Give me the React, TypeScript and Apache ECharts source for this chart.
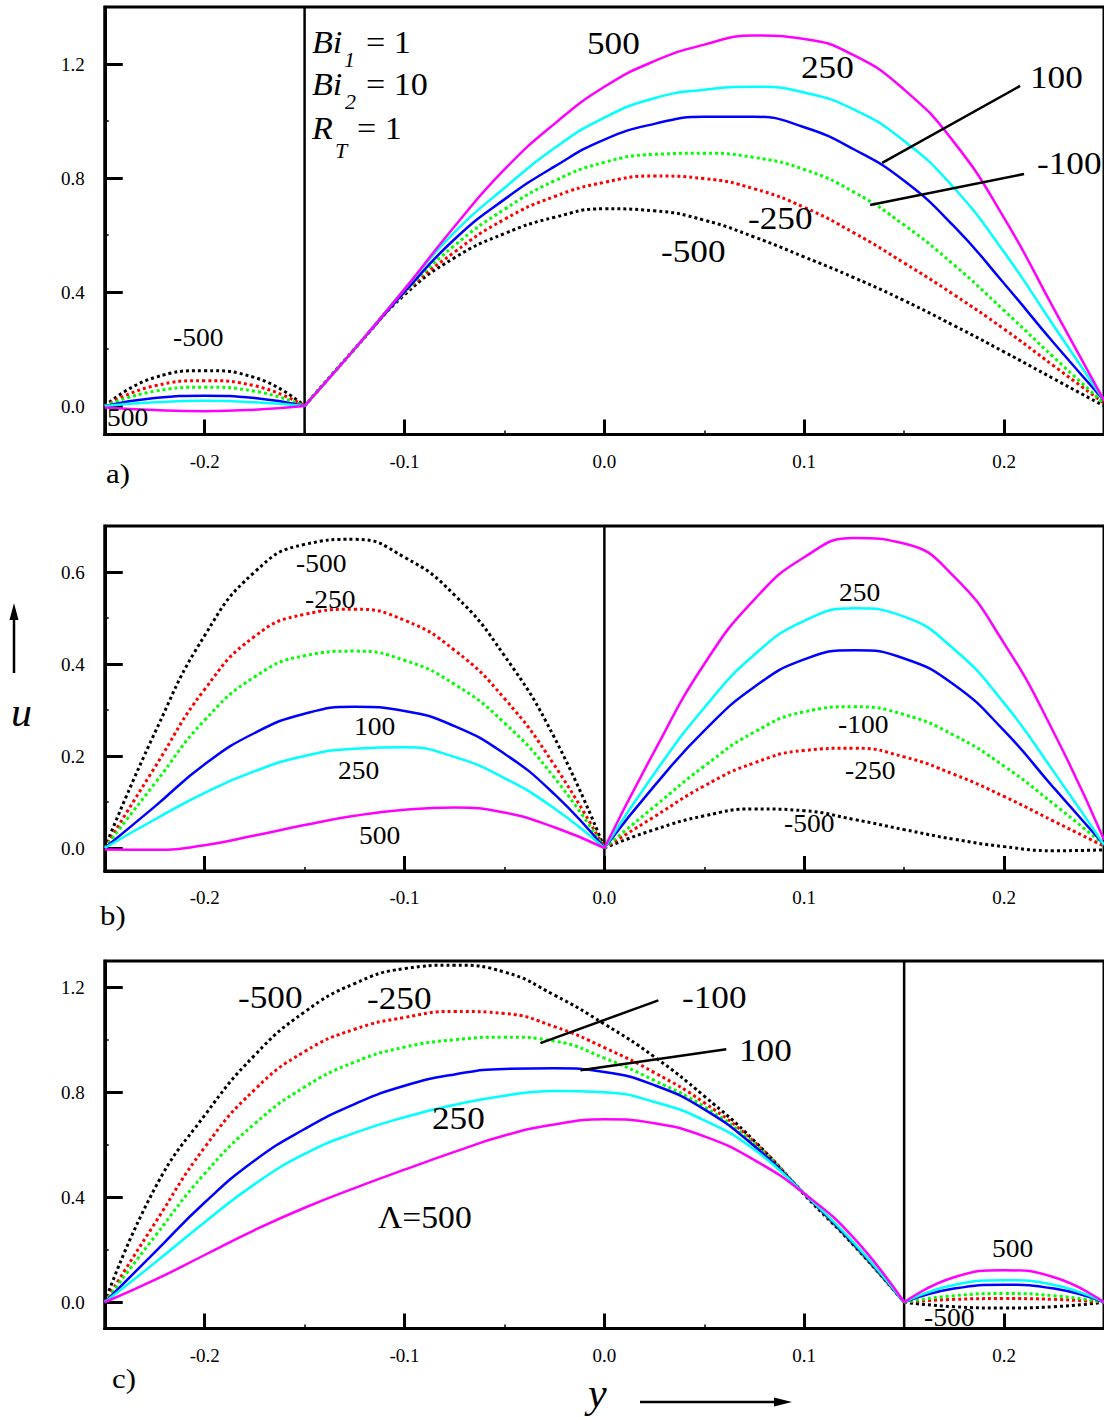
import React, { useEffect, useRef } from "react";
import * as echarts from "echarts";

const FONT = "'Liberation Serif', 'Times New Roman', serif";

// ---------- axis ticks ----------
const xMajor = [-0.2, -0.1, 0.0, 0.1, 0.2];
const xMinor = [-0.25, -0.15, -0.05, 0.05, 0.15, 0.25];
const yMajorA = [0.0, 0.4, 0.8, 1.2];
const yMinorA = [0.2, 0.6, 1.0];
const yMajorB = [0.0, 0.2, 0.4, 0.6];
const yMinorB = [0.1, 0.3, 0.5];
const yMajorC = [0.0, 0.4, 0.8, 1.2];
const yMinorC = [0.2, 0.6, 1.0];

// Λ values of the curves (order of the arrays below)
const lambdas = ["500", "250", "100", "-100", "-250", "-500"];

// ---------- panel a ----------
const xA_L = [-0.25, -0.225, -0.2, -0.175, -0.15];
const a_L_500 = [-0.005, -0.014, -0.018, -0.013, 0];
const a_L_250 = [0, 0.013, 0.018, 0.013, 0];
const a_L_100 = [0, 0.028, 0.036, 0.028, 0];
const a_L_m100 = [0, 0.052, 0.066, 0.052, 0];
const a_L_m250 = [0, 0.071, 0.089, 0.071, 0];
const a_L_m500 = [0, 0.1, 0.124, 0.1, 0];

const xA_R = [-0.15, -0.125, -0.1, -0.075, -0.05, -0.025, 0, 0.025, 0.05, 0.075, 0.1, 0.125, 0.15, 0.175, 0.2, 0.225, 0.25];
const a_R_500 = [0, 0.2, 0.41, 0.63, 0.83, 0.99, 1.12, 1.21, 1.268, 1.3, 1.288, 1.23, 1.11, 0.925, 0.66, 0.34, 0.02];
const a_R_250 = [0, 0.2, 0.41, 0.61, 0.765, 0.905, 1.012, 1.08, 1.11, 1.12, 1.1, 1.04, 0.93, 0.765, 0.54, 0.28, 0.02];
const a_R_100 = [0, 0.2, 0.4, 0.585, 0.725, 0.84, 0.935, 0.99, 1.015, 1.015, 0.978, 0.9, 0.79, 0.63, 0.43, 0.22, 0.02];
const a_R_m100 = [0, 0.2, 0.398, 0.563, 0.69, 0.79, 0.855, 0.883, 0.887, 0.872, 0.83, 0.75, 0.635, 0.495, 0.335, 0.17, 0.01];
const a_R_m250 = [0, 0.2, 0.396, 0.54, 0.655, 0.735, 0.785, 0.807, 0.798, 0.762, 0.697, 0.607, 0.502, 0.39, 0.27, 0.14, 0.01];
const a_R_m500 = [0, 0.2, 0.39, 0.52, 0.605, 0.662, 0.692, 0.685, 0.652, 0.593, 0.523, 0.45, 0.37, 0.282, 0.19, 0.095, 0.0];

// ---------- panel b ----------
const xB_L = [-0.25, -0.225, -0.2, -0.175, -0.15, -0.125, -0.1, -0.075, -0.05, -0.025, 0];
const b_L_500 = [-0.003, -0.004, 0.006, 0.027, 0.05, 0.07, 0.083, 0.088, 0.077, 0.045, 0];
const b_L_250 = [0, 0.062, 0.12, 0.167, 0.2, 0.216, 0.219, 0.198, 0.152, 0.086, 0];
const b_L_100 = [0, 0.09, 0.182, 0.25, 0.292, 0.307, 0.298, 0.265, 0.205, 0.117, 0];
const b_L_m100 = [0, 0.14, 0.278, 0.372, 0.418, 0.428, 0.408, 0.356, 0.272, 0.153, 0];
const b_L_m250 = [0, 0.175, 0.345, 0.46, 0.508, 0.519, 0.495, 0.43, 0.325, 0.18, 0];
const b_L_m500 = [0, 0.25, 0.462, 0.6, 0.66, 0.671, 0.632, 0.55, 0.418, 0.24, 0];

const xB_R = [0, 0.025, 0.05, 0.075, 0.1, 0.125, 0.15, 0.175, 0.2, 0.225, 0.25];
const b_R_500 = [0, 0.21, 0.4, 0.54, 0.632, 0.674, 0.662, 0.59, 0.445, 0.25, 0.018];
const b_R_250 = [0, 0.162, 0.305, 0.42, 0.494, 0.521, 0.503, 0.432, 0.315, 0.165, 0.007];
const b_R_100 = [0, 0.135, 0.255, 0.35, 0.41, 0.43, 0.412, 0.355, 0.255, 0.13, 0.007];
const b_R_m100 = [0, 0.09, 0.178, 0.252, 0.296, 0.307, 0.29, 0.245, 0.178, 0.095, 0.007];
const b_R_m250 = [0, 0.068, 0.135, 0.185, 0.212, 0.217, 0.198, 0.16, 0.112, 0.058, 0.004];
const b_R_m500 = [0, 0.04, 0.07, 0.085, 0.081, 0.062, 0.04, 0.019, 0.003, -0.006, -0.004];

// ---------- panel c ----------
const xC_L = [-0.25, -0.225, -0.2, -0.175, -0.15, -0.125, -0.1, -0.075, -0.05, -0.025, 0, 0.025, 0.05, 0.075, 0.1, 0.125, 0.15];
const c_L_500 = [0, 0.085, 0.18, 0.275, 0.36, 0.435, 0.505, 0.573, 0.635, 0.677, 0.697, 0.682, 0.632, 0.542, 0.414, 0.243, 0];
const c_L_250 = [0, 0.15, 0.305, 0.45, 0.565, 0.645, 0.705, 0.752, 0.787, 0.805, 0.8, 0.763, 0.693, 0.582, 0.414, 0.225, 0];
const c_L_100 = [0, 0.19, 0.38, 0.54, 0.66, 0.755, 0.825, 0.868, 0.889, 0.891, 0.877, 0.827, 0.735, 0.595, 0.414, 0.22, 0];
const c_L_m100 = [0, 0.25, 0.49, 0.68, 0.82, 0.915, 0.972, 1.0, 1.01, 0.995, 0.93, 0.845, 0.745, 0.603, 0.414, 0.217, 0];
const c_L_m250 = [0, 0.3, 0.59, 0.81, 0.955, 1.04, 1.085, 1.108, 1.1, 1.05, 0.97, 0.875, 0.76, 0.61, 0.414, 0.217, 0];
const c_L_m500 = [0, 0.433, 0.712, 0.941, 1.106, 1.214, 1.271, 1.284, 1.258, 1.17, 1.06, 0.935, 0.785, 0.615, 0.41, 0.215, 0];

const xC_R = [0.15, 0.175, 0.2, 0.225, 0.25];
const c_R_500 = [0, 0.095, 0.122, 0.095, 0];
const c_R_250 = [0, 0.066, 0.084, 0.066, 0];
const c_R_100 = [0, 0.052, 0.067, 0.052, 0];
const c_R_m100 = [0, 0.025, 0.033, 0.025, 0];
const c_R_m250 = [0, 0.011, 0.014, 0.011, 0];
const c_R_m500 = [0, -0.017, -0.022, -0.017, 0];

// interfaces between the two layers
const interfaceA = -0.15;
const interfaceB = 0.0;
const interfaceC = 0.15;

// leader lines (data coordinates)
const leaderA100 = [[0.208, 1.123], [0.139, 0.853]];
const leaderAm100 = [[0.21, 0.814], [0.133, 0.705]];
const leaderCm100 = [[0.027, 1.15], [-0.032, 0.987]];
const leaderC100 = [[0.061, 0.964], [-0.012, 0.884]];

const COLORS = ["#ff00ff", "#00ffff", "#0000ff", "#00ff00", "#ff0000", "#000000"];
const DOTTED = [false, false, false, true, true, true];

const panels = [
  {
    ymin: -0.1, ymax: 1.4, yMajor: yMajorA, yMinor: yMinorA, top: 7, height: 427.5, iface: interfaceA,
    regions: [
      { x: xA_L, ys: [a_L_500, a_L_250, a_L_100, a_L_m100, a_L_m250, a_L_m500] },
      { x: xA_R, ys: [a_R_500, a_R_250, a_R_100, a_R_m100, a_R_m250, a_R_m500] },
    ],
    leaders: [leaderA100, leaderAm100],
  },
  {
    ymin: -0.05, ymax: 0.7, yMajor: yMajorB, yMinor: yMinorB, top: 526, height: 345, iface: interfaceB,
    regions: [
      { x: xB_L, ys: [b_L_500, b_L_250, b_L_100, b_L_m100, b_L_m250, b_L_m500] },
      { x: xB_R, ys: [b_R_500, b_R_250, b_R_100, b_R_m100, b_R_m250, b_R_m500] },
    ],
    leaders: [],
  },
  {
    ymin: -0.1, ymax: 1.3, yMajor: yMajorC, yMinor: yMinorC, top: 961, height: 367.5, iface: interfaceC,
    regions: [
      { x: xC_L, ys: [c_L_500, c_L_250, c_L_100, c_L_m100, c_L_m250, c_L_m500] },
      { x: xC_R, ys: [c_R_500, c_R_250, c_R_100, c_R_m100, c_R_m250, c_R_m500] },
    ],
    leaders: [leaderCm100, leaderC100],
  },
];

function txt(text: string, x: number, y: number, size: number, italic = false, sx = 1.1) {
  return {
    type: "text",
    x,
    y,
    scaleX: sx,
    z: 20,
    silent: true,
    style: {
      text,
      fill: "#000",
      font: `${italic ? "italic " : ""}${size}px ${FONT}`,
      align: "left",
      verticalAlign: "middle",
    },
  };
}

function buildOption() {
  const grid: any[] = [];
  const xAxis: any[] = [];
  const yAxis: any[] = [];
  const series: any[] = [];

  panels.forEach((p, pi) => {
    grid.push({
      left: 104.75,
      width: 1002.5,
      top: p.top,
      height: p.height,
      show: true,
      borderColor: "#000",
      borderWidth: 3,
      backgroundColor: "transparent",
      containLabel: false,
    });
    const lbl = {
      fontFamily: FONT,
      fontSize: 19,
      color: "#000",
      formatter: (v: number) => v.toFixed(1),
    };
    xAxis.push({
      type: "value",
      gridIndex: pi,
      min: -0.25,
      max: 0.25,
      position: "bottom",
      axisLine: { show: true, onZero: false, lineStyle: { color: "#000", width: 3 } },
      axisTick: { show: true, inside: true, length: 15, lineStyle: { color: "#000", width: 3 }, customValues: xMajor },
      axisLabel: { ...lbl, margin: 17, customValues: xMajor },
      splitLine: { show: false },
    });
    xAxis.push({
      type: "value",
      gridIndex: pi,
      min: -0.25,
      max: 0.25,
      position: "bottom",
      axisLine: { show: false, onZero: false },
      axisTick: { show: true, inside: true, length: 4, lineStyle: { color: "#000", width: 1.5 }, customValues: xMinor },
      axisLabel: { show: false },
      splitLine: { show: false },
    });
    yAxis.push({
      type: "value",
      gridIndex: pi,
      min: p.ymin,
      max: p.ymax,
      position: "left",
      axisLine: { show: true, onZero: false, lineStyle: { color: "#000", width: 3 } },
      axisTick: { show: true, inside: true, length: 18, lineStyle: { color: "#000", width: 3 }, customValues: p.yMajor },
      axisLabel: { ...lbl, margin: 20, customValues: p.yMajor },
      splitLine: { show: false },
    });
    yAxis.push({
      type: "value",
      gridIndex: pi,
      min: p.ymin,
      max: p.ymax,
      position: "left",
      axisLine: { show: false, onZero: false },
      axisTick: { show: true, inside: true, length: 4, lineStyle: { color: "#000", width: 1.5 }, customValues: p.yMinor },
      axisLabel: { show: false },
      splitLine: { show: false },
    });

    const xi = pi * 2;
    const yi = pi * 2;

    series.push({
      type: "line",
      xAxisIndex: xi,
      yAxisIndex: yi,
      data: [[p.iface, p.ymin], [p.iface, p.ymax]],
      symbol: "none",
      silent: true,
      z: 2,
      lineStyle: { color: "#000", width: 2.5 },
    });

    p.regions.forEach((r) => {
      r.ys.forEach((ys, ci) => {
        series.push({
          name: `${lambdas[ci]}`,
          type: "line",
          xAxisIndex: xi,
          yAxisIndex: yi,
          data: r.x.map((x, k) => [x, ys[k]]),
          smooth: 0.5,
          symbol: "none",
          silent: true,
          z: 3 + (5 - ci) * 0.01,
          lineStyle: {
            color: COLORS[ci],
            width: DOTTED[ci] ? 3 : 2.5,
            type: DOTTED[ci] ? [3, 3] : "solid",
            cap: "butt",
          },
        });
      });
    });

    p.leaders.forEach((l) => {
      series.push({
        type: "line",
        xAxisIndex: xi,
        yAxisIndex: yi,
        data: l,
        symbol: "none",
        silent: true,
        z: 5,
        lineStyle: { color: "#000", width: 2.5 },
      });
    });
  });

  const graphic: any[] = [
    // panel a parameter box
    txt("Bi", 312, 43, 31, true),
    txt("1", 344, 60, 20, true),
    txt("= 1", 366, 43, 31),
    txt("Bi", 312, 85, 31, true),
    txt("2", 345, 102, 20, true),
    txt("= 10", 366, 85, 31),
    txt("R", 312, 129, 31, true),
    txt("T", 335, 151, 20, true),
    txt("= 1", 357, 129, 31),
    // panel a labels
    txt("500", 587, 43, 32),
    txt("250", 801, 67, 32),
    txt("100", 1030, 77, 32),
    txt("-100", 1037, 163, 32),
    txt("-250", 748, 218, 32),
    txt("-500", 661, 251, 32),
    txt("-500", 173, 338, 25),
    txt("500", 107, 418, 25),
    txt("a)", 106, 473, 28),
    // panel b labels
    txt("-500", 296, 564, 25),
    txt("-250", 305, 600, 25),
    txt("100", 354, 727, 25),
    txt("250", 338, 771, 25),
    txt("500", 359, 836, 25),
    txt("250", 839, 593, 25),
    txt("-100", 838, 725, 25),
    txt("-250", 845, 771, 25),
    txt("-500", 784, 824, 25),
    txt("b)", 100, 915, 28),
    // panel c labels
    txt("-500", 238, 997, 32),
    txt("-250", 367, 998, 32),
    txt("-100", 682, 997, 32),
    txt("100", 739, 1050, 32),
    txt("250", 432, 1118, 32),
    txt("Λ=500", 378, 1217, 32, false, 1.05),
    txt("500", 992, 1249, 25),
    txt("-500", 924, 1318, 25),
    txt("c)", 112, 1378, 28),
    // axis names
    txt("u", 11, 712, 40, true, 1.05),
    txt("y", 588, 1393, 40, true, 1.05),
    {
      type: "line",
      silent: true,
      shape: { x1: 14, y1: 673, x2: 14, y2: 616 },
      style: { stroke: "#000", lineWidth: 2.5 },
    },
    {
      type: "polygon",
      silent: true,
      shape: { points: [[9.5, 620], [18.5, 620], [14, 603]] },
      style: { fill: "#000" },
    },
    {
      type: "line",
      silent: true,
      shape: { x1: 640, y1: 1402, x2: 778, y2: 1402 },
      style: { stroke: "#000", lineWidth: 2.5 },
    },
    {
      type: "polygon",
      silent: true,
      shape: { points: [[774, 1397.5], [774, 1406.5], [792, 1402]] },
      style: { fill: "#000" },
    },
  ];

  return {
    animation: false,
    backgroundColor: "#fff",
    grid,
    xAxis,
    yAxis,
    series,
    graphic,
  };
}

export default function App() {
  const ref = useRef<HTMLDivElement>(null);
  useEffect(() => {
    if (!ref.current) return;
    const chart = echarts.init(ref.current, undefined, { renderer: "svg" });
    chart.setOption(buildOption() as any);
    return () => chart.dispose();
  }, []);
  return (
    <div
      ref={ref}
      style={{ position: "absolute", left: 0, top: 0, width: 1104, height: 1418, background: "#fff" }}
    />
  );
}
